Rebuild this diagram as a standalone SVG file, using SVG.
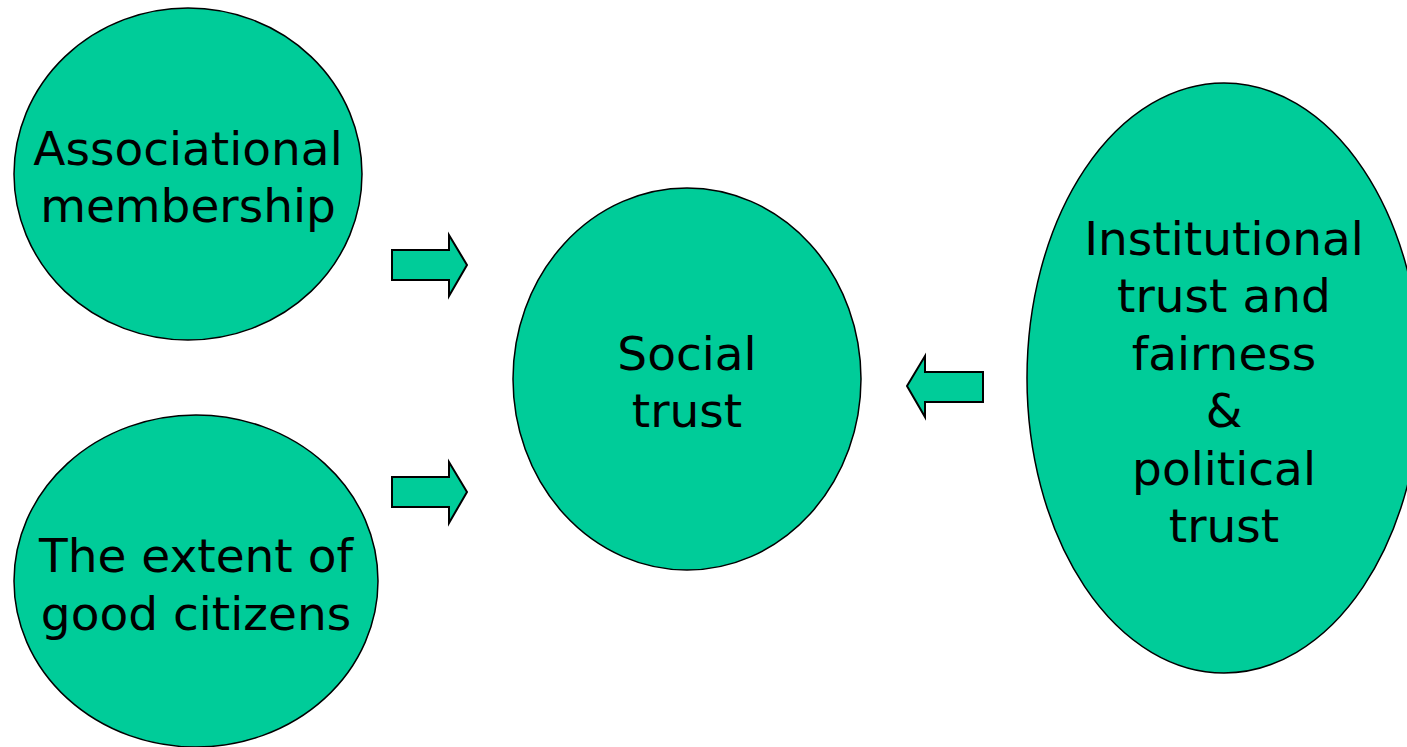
<svg xmlns="http://www.w3.org/2000/svg" width="1407" height="747" viewBox="0 0 1407 747">
<style>
.n{fill:#00CC99;stroke:#000;stroke-width:1.5}
.a{fill:#00CC99;stroke:#000;stroke-width:2;stroke-linejoin:miter}
.t{font-family:"DejaVu Sans",Verdana,sans-serif;font-size:47px;fill:#000;text-anchor:middle}
</style>
<rect width="1407" height="747" fill="#fff"/>
<g id="associational">
<ellipse class="n" cx="188" cy="174" rx="174" ry="166"/>
<text class="t" x="188" y="165">Associational</text>
<text class="t" x="188" y="222">membership</text>
</g>
<g id="citizens">
<ellipse class="n" cx="196" cy="581" rx="182" ry="166"/>
<text class="t" x="196" y="572">The extent of</text>
<text class="t" x="196" y="630">good citizens</text>
</g>
<g id="social">
<ellipse class="n" cx="687" cy="379" rx="174" ry="191"/>
<text class="t" x="687" y="370">Social</text>
<text class="t" x="687" y="427">trust</text>
</g>
<g id="institutional">
<ellipse class="n" cx="1224" cy="378" rx="197" ry="295"/>
<text class="t" x="1224" y="255">Institutional</text>
<text class="t" x="1224" y="312">trust and</text>
<text class="t" x="1224" y="370">fairness</text>
<text class="t" x="1224" y="427">&amp;</text>
<text class="t" x="1224" y="485">political</text>
<text class="t" x="1224" y="542">trust</text>
</g>
<g id="connectors">
<path class="a" d="M392,250 H449 V235 L467,265 L449,296 V280 H392 Z"/>
<path class="a" d="M392,477 H449 V462 L467,492 L449,523 V507 H392 Z"/>
<path class="a" d="M983,372 H925 V356 L907,386 L925,417 V402 H983 Z"/>
</g>
</svg>
